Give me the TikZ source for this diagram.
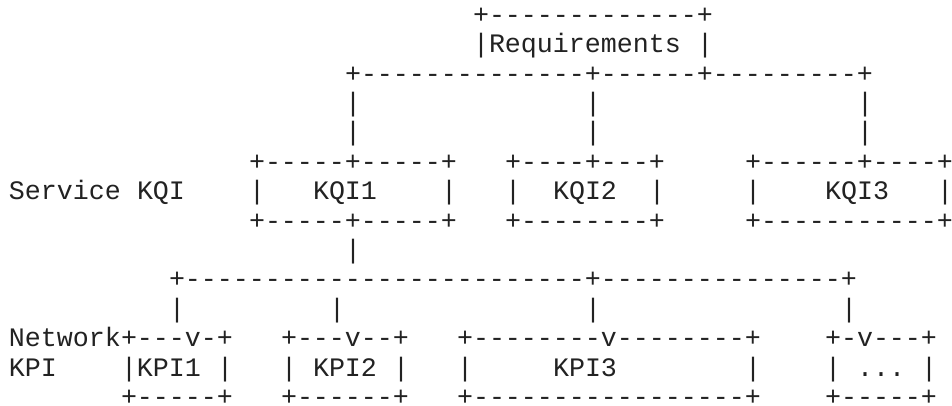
\documentclass[tikz,border=0pt]{standalone}
\usepackage{fontspec}
\newfontfamily\asciifont{Liberation Mono}[Ligatures=TeXOff]
\definecolor{ink}{HTML}{222222}
% One character cell: 16pt wide, rows 29.4pt apart.
\newcommand\cellx[1]{9+16*#1}
\newcommand\celly[1]{405-(23.3+29.4*(#1-1))}
% \run{name}{column}{row}{text}: a run of characters starting at a cell
\newcommand\run[4]{\node[ascii] (#1) at ({\cellx{#2}},{\celly{#3}}) {#4};}
\begin{document}
\begin{tikzpicture}[x=1pt,y=1pt,
  ascii/.style={anchor=base west,inner sep=0pt,outer sep=0pt,text=ink,
    font=\asciifont\fontsize{26.66pt}{29.4pt}\selectfont}]
\fill[white] (0,0) rectangle (952,405);
\useasboundingbox (0,0) rectangle (952,405);

% Requirements box
\run{req-top}{29}{1}{+-------------+}
\run{req-l}{29}{2}{|Requirements}
\run{req-r}{43}{2}{|}
\run{req-bus}{21}{3}{+--------------+------+---------+}
\run{req-a1}{21}{4}{|}
\run{req-b1}{36}{4}{|}
\run{req-c1}{53}{4}{|}
\run{req-a2}{21}{5}{|}
\run{req-b2}{36}{5}{|}
\run{req-c2}{53}{5}{|}

% Service KQI row
\run{kqi1-top}{15}{6}{+-----+-----+}
\run{kqi2-top}{31}{6}{+----+---+}
\run{kqi3-top}{46}{6}{+------+----+}
\run{svc}{0}{7}{Service}
\run{svc-kqi}{8}{7}{KQI}
\run{kqi1-l}{15}{7}{|}
\run{kqi1}{19}{7}{KQI1}
\run{kqi1-r}{27}{7}{|}
\run{kqi2-l}{31}{7}{|}
\run{kqi2}{34}{7}{KQI2}
\run{kqi2-r}{40}{7}{|}
\run{kqi3-l}{46}{7}{|}
\run{kqi3}{51}{7}{KQI3}
\run{kqi3-r}{58}{7}{|}
\run{kqi1-bot}{15}{8}{+-----+-----+}
\run{kqi2-bot}{31}{8}{+--------+}
\run{kqi3-bot}{46}{8}{+-----------+}

% KQI1 fan-out to the KPIs
\run{kqi1-down}{21}{9}{|}
\run{kpi-bus}{10}{10}{+-------------------------+---------------+}
\run{kpi-a}{10}{11}{|}
\run{kpi-b}{20}{11}{|}
\run{kpi-c}{36}{11}{|}
\run{kpi-d}{52}{11}{|}

% Network KPI row
\run{net}{0}{12}{Network}
\run{kpi1-top}{7}{12}{+---v-+}
\run{kpi2-top}{17}{12}{+---v--+}
\run{kpi3-top}{28}{12}{+--------v--------+}
\run{kpi4-top}{51}{12}{+-v---+}
\run{net-kpi}{0}{13}{KPI}
\run{kpi1-l}{7}{13}{|KPI1}
\run{kpi1-r}{13}{13}{|}
\run{kpi2-l}{17}{13}{|}
\run{kpi2}{19}{13}{KPI2}
\run{kpi2-r}{24}{13}{|}
\run{kpi3-l}{28}{13}{|}
\run{kpi3}{34}{13}{KPI3}
\run{kpi3-r}{46}{13}{|}
\run{kpi4-l}{51}{13}{|}
\run{kpi4}{53}{13}{...}
\run{kpi4-r}{57}{13}{|}
\run{kpi1-bot}{7}{14}{+-----+}
\run{kpi2-bot}{17}{14}{+------+}
\run{kpi3-bot}{28}{14}{+-----------------+}
\run{kpi4-bot}{51}{14}{+-----+}
\end{tikzpicture}
\end{document}
